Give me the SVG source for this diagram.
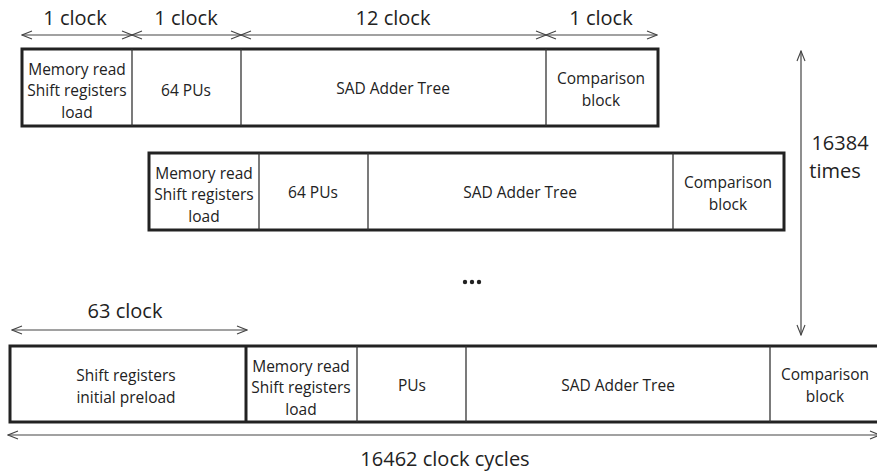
<svg xmlns="http://www.w3.org/2000/svg" width="877" height="472" viewBox="0 0 877 472">
  <style>
    text { font-family: "Open Sans", "Liberation Sans", sans-serif; fill: #222; text-anchor: middle; }
    .cell { font-size: 15.5px; }
    .lbl { font-size: 20px; }
    .frame { fill: #fff; stroke: #222; stroke-width: 3; }
    .div { stroke: #333; stroke-width: 1.3; }
    .conn { stroke: #444; stroke-width: 1.2; fill: none; marker-start: url(#open); marker-end: url(#open); }
  </style>
  <defs>
    <marker id="open" viewBox="0 0 12 10" refX="11" refY="5" markerWidth="12" markerHeight="10" markerUnits="userSpaceOnUse" orient="auto-start-reverse">
      <polyline points="1,1 11,5 1,9" fill="none" stroke="#444" stroke-width="1.1"/>
    </marker>
  </defs>
  <rect width="877" height="472" fill="#fff"/>

  <!-- first iteration -->
  <g id="iter1">
    <rect class="frame" x="22" y="49" width="636" height="77"/>
    <line class="div" x1="132" y1="49" x2="132" y2="126"/>
    <line class="div" x1="241" y1="49" x2="241" y2="126"/>
    <line class="div" x1="546" y1="49" x2="546" y2="126"/>
    <text class="cell" x="77" y="75">Memory read</text>
    <text class="cell" x="77" y="96">Shift registers</text>
    <text class="cell" x="77" y="118">load</text>
    <text class="cell" x="186" y="96">64 PUs</text>
    <text class="cell" x="393" y="94">SAD Adder Tree</text>
    <text class="cell" x="601" y="84">Comparison</text>
    <text class="cell" x="601" y="106">block</text>
  </g>

  <!-- second iteration -->
  <g id="iter2">
    <rect class="frame" x="149" y="153" width="635" height="77"/>
    <line class="div" x1="259" y1="153" x2="259" y2="230"/>
    <line class="div" x1="368" y1="153" x2="368" y2="230"/>
    <line class="div" x1="673" y1="153" x2="673" y2="230"/>
    <text class="cell" x="204" y="179">Memory read</text>
    <text class="cell" x="204" y="200">Shift registers</text>
    <text class="cell" x="204" y="222">load</text>
    <text class="cell" x="313" y="198">64 PUs</text>
    <text class="cell" x="520" y="198">SAD Adder Tree</text>
    <text class="cell" x="728" y="188">Comparison</text>
    <text class="cell" x="728" y="210">block</text>
  </g>

  <!-- ellipsis between iterations -->
  <g id="ellipsis" fill="#222">
    <circle cx="465" cy="282" r="2.2"/>
    <circle cx="472" cy="282" r="2.2"/>
    <circle cx="479" cy="282" r="2.2"/>
  </g>

  <!-- final iteration with initial preload -->
  <g id="iterN">
    <rect class="frame" x="10" y="346" width="880" height="76"/>
    <line x1="246" y1="346" x2="246" y2="422" stroke="#222" stroke-width="3"/>
    <line class="div" x1="357" y1="346" x2="357" y2="422"/>
    <line class="div" x1="466" y1="346" x2="466" y2="422"/>
    <line class="div" x1="770" y1="346" x2="770" y2="422"/>
    <text class="cell" x="126" y="381">Shift registers</text>
    <text class="cell" x="126" y="403">initial preload</text>
    <text class="cell" x="301" y="372">Memory read</text>
    <text class="cell" x="301" y="393">Shift registers</text>
    <text class="cell" x="301" y="415">load</text>
    <text class="cell" x="412" y="391">PUs</text>
    <text class="cell" x="618" y="391">SAD Adder Tree</text>
    <text class="cell" x="825" y="380">Comparison</text>
    <text class="cell" x="825" y="402">block</text>
  </g>

  <!-- timing connectors -->
  <g id="connectors">
    <line class="conn" x1="22" y1="35" x2="132" y2="35"/>
    <line class="conn" x1="132" y1="35" x2="241" y2="35"/>
    <line class="conn" x1="241" y1="35" x2="546" y2="35"/>
    <line class="conn" x1="546" y1="35" x2="657" y2="35"/>
    <line class="conn" x1="801" y1="51" x2="801" y2="335"/>
    <line class="conn" x1="12" y1="330" x2="247" y2="330"/>
    <line class="conn" x1="8" y1="435" x2="880" y2="435"/>
  </g>

  <!-- timing labels -->
  <g id="labels">
    <text class="lbl" x="75" y="25">1 clock</text>
    <text class="lbl" x="186" y="25">1 clock</text>
    <text class="lbl" x="393" y="25">12 clock</text>
    <text class="lbl" x="601" y="25">1 clock</text>
    <text class="lbl" x="840" y="150">16384</text>
    <text class="lbl" x="835" y="178">times</text>
    <text class="lbl" x="125" y="318">63 clock</text>
    <text class="lbl" x="445" y="466">16462 clock cycles</text>
  </g>
</svg>
